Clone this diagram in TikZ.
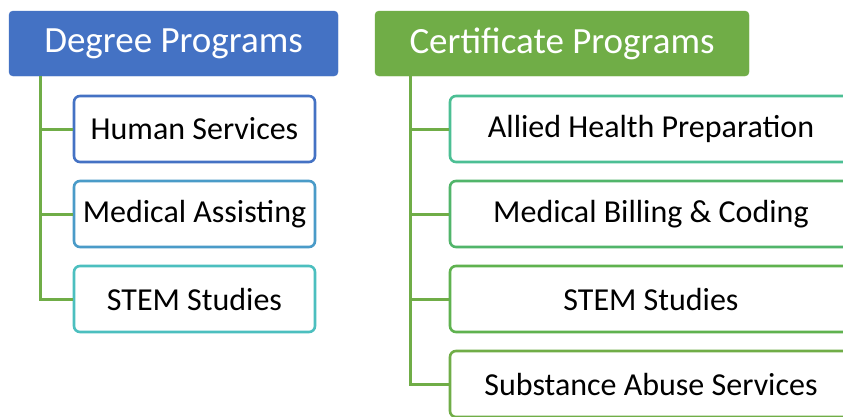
\documentclass[tikz,border=0pt]{standalone}
\usepackage{fontspec}
\setmainfont{Carlito}
\usepackage{tikz}
\usetikzlibrary{positioning}

\definecolor{hdblue}{HTML}{4472C4}
\definecolor{hdgreen}{HTML}{70AD47}
\definecolor{bdone}{HTML}{4472C4}
\definecolor{bdtwo}{HTML}{4A9BC8}
\definecolor{bdthree}{HTML}{4CBFBF}
\definecolor{bdfour}{HTML}{4CBF94}
\definecolor{bdfive}{HTML}{51B56A}
\definecolor{bdsix}{HTML}{5FB24F}
\definecolor{bdseven}{HTML}{70AD47}

\begin{document}
\begin{tikzpicture}[x=1pt,y=-1pt,
	header/.style={fill=#1, draw=#1, rounded corners=4pt, text=white, font=\fontsize{37}{42}\selectfont, minimum height=65pt, inner sep=0pt},
	item/.style={draw=#1, line width=2.6pt, fill=white, rounded corners=6pt, font=\fontsize{32}{36}\selectfont, minimum height=66pt, inner sep=0pt},
	link/.style={draw=hdgreen, line width=3pt}]
	\useasboundingbox (0,0) rectangle (843,416);
	\clip (0,0) rectangle (843,416);
	\fill[white] (0,0) rectangle (843,416);
	% headers
	\node[header=hdblue, minimum width=329pt] (degree) at (173.5,43.5) {Degree Programs};
	\node[header=hdgreen, minimum width=374pt] (cert) at (562,43.5) {Certificate Programs};
	% degree programs
	\node[item=bdone, minimum width=241pt] (hs) at (194.5,129) {Human Services};
	\node[item=bdtwo, minimum width=241pt] (ma) at (194.5,214) {Medical Assisting};
	\node[item=bdthree, minimum width=241pt] (stemd) at (194.5,299) {STEM Studies};
	% certificate programs
	\node[item=bdfour, minimum width=402pt] (ahp) at (651,129) {Allied Health Preparation};
	\node[item=bdfive, minimum width=402pt] (mbc) at (651,214) {Medical Billing \& Coding};
	\node[item=bdsix, minimum width=402pt] (stemc) at (651,299) {STEM Studies};
	\node[item=bdseven, minimum width=402pt] (sas) at (651,384) {Substance Abuse Services};
	% connectors
	\foreach \kid in {hs,ma,stemd}
		\draw[link] (degree.south west) ++(32,0) |- (\kid.west);
	\foreach \kid in {ahp,mbc,stemc,sas}
		\draw[link] (cert.south west) ++(36,0) |- (\kid.west);
\end{tikzpicture}
\end{document}
